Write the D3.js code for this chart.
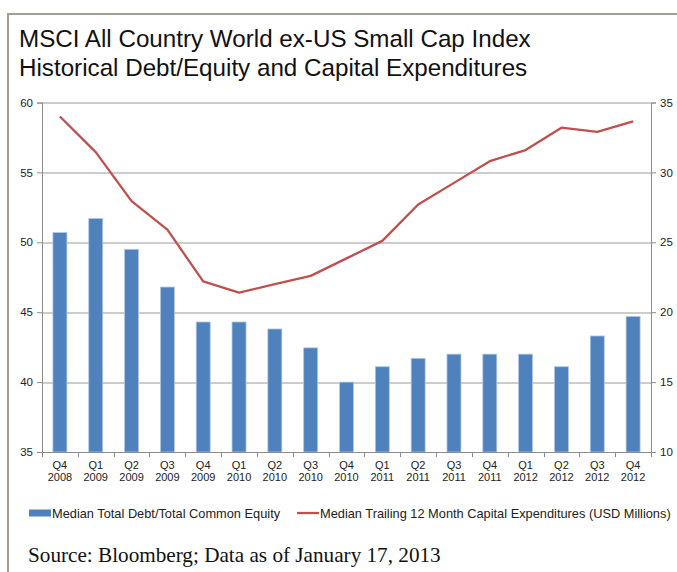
<!DOCTYPE html>
<html>
<head>
<meta charset="utf-8">
<script src="https://cdn.jsdelivr.net/npm/d3@7"></script>
<style>
	body { margin: 0; background: #fff; }
	svg { display: block; font-family: "Liberation Sans", Arial, sans-serif; }
</style>
</head>
<body>
<svg id="chart"></svg>
<script>
// quarters shown on the x axis
const quarters = ['Q4', 'Q1', 'Q2', 'Q3', 'Q4', 'Q1', 'Q2', 'Q3', 'Q4', 'Q1', 'Q2', 'Q3', 'Q4', 'Q1', 'Q2', 'Q3', 'Q4'];
const years = ['2008', '2009', '2009', '2009', '2009', '2010', '2010', '2010', '2010', '2011', '2011', '2011', '2011', '2012', '2012', '2012', '2012'];

// Median Total Debt/Total Common Equity (left axis)
const debtEquity = [50.7, 51.7, 49.5, 46.8, 44.3, 44.3, 43.8, 42.45, 40.0, 41.1, 41.7, 42.0, 42.0, 42.0, 41.1, 43.3, 44.7];

// Median Trailing 12 Month Capex, USD millions (right axis)
const capex = [34.0, 31.45, 27.95, 25.9, 22.2, 21.4, 22.0, 22.6, 23.85, 25.1, 27.7, 29.25, 30.8, 31.6, 33.2, 32.9, 33.65];

const leftTicks = [35, 40, 45, 50, 55, 60];
const rightTicks = [10, 15, 20, 25, 30, 35];

const W = 677, H = 572;
const margin = { top: 102.5, right: 26, bottom: 120, left: 42 };
const plotW = W - margin.left - margin.right;
const plotH = H - margin.top - margin.bottom;

const svg = d3.select('#chart').attr('width', W).attr('height', H);

// outer frame (top and left edges only are visible)
svg.append('path')
	.attr('d', `M8,${H} L8,14 L${W},14`)
	.attr('fill', 'none')
	.attr('stroke', '#a39e92')
	.attr('stroke-width', 2);

// title
const title = svg.append('text')
	.attr('x', 19)
	.attr('font-size', 24.2)
	.attr('fill', '#111');
title.append('tspan').attr('x', 19).attr('y', 47).text('MSCI All Country World ex-US Small Cap Index');
title.append('tspan').attr('x', 19).attr('y', 76).text('Historical Debt/Equity and Capital Expenditures');

const chart = svg.append('g')
	.attr('transform', `translate(${margin.left},${margin.top})`);

const idx = d3.range(quarters.length);
const x = d3.scaleBand().domain(idx).range([0, plotW]).padding(0);
const yL = d3.scaleLinear().domain([35, 60]).range([plotH, 0]);
const yR = d3.scaleLinear().domain([10, 35]).range([plotH, 0]);

// gridlines
chart.selectAll('.grid')
	.data(leftTicks.slice(1))
	.join('line')
	.attr('class', 'grid')
	.attr('x1', 0)
	.attr('x2', plotW)
	.attr('y1', (d) => Math.round(yL(d)) + 0.5)
	.attr('y2', (d) => Math.round(yL(d)) + 0.5)
	.attr('stroke', '#9a9a9a')
	.attr('stroke-width', 1);

// bars
const barW = 14;
chart.selectAll('.bar')
	.data(debtEquity)
	.join('rect')
	.attr('class', 'bar')
	.attr('x', (d, i) => x(i) + x.bandwidth() / 2 - barW / 2)
	.attr('y', (d) => yL(d))
	.attr('width', barW)
	.attr('height', (d) => plotH - yL(d))
	.attr('fill', '#4f81bd')
	.attr('stroke', '#b4c8e4')
	.attr('stroke-width', 0.8);

// line
const line = d3.line()
	.x((d, i) => x(i) + x.bandwidth() / 2)
	.y((d) => yR(d));

chart.append('path')
	.datum(capex)
	.attr('d', line)
	.attr('fill', 'none')
	.attr('stroke', '#c0504d')
	.attr('stroke-width', 2.3)
	.attr('stroke-linejoin', 'round');

// axes
const axisColor = '#8c8c8c';
const leftAxis = chart.append('g')
	.call(d3.axisLeft(yL).tickValues(leftTicks).tickSize(5).tickPadding(4));
const rightAxis = chart.append('g')
	.attr('transform', `translate(${plotW},0)`)
	.call(d3.axisRight(yR).tickValues(rightTicks).tickSize(5).tickPadding(4));

[leftAxis, rightAxis].forEach((g) => {
	g.selectAll('.domain, line').attr('stroke', axisColor);
	g.selectAll('text').attr('font-size', 11.5).attr('fill', '#222')
		.attr('font-family', '"Liberation Sans", Arial, sans-serif');
});

// bottom axis: line, ticks between categories, two-line labels
const bottom = chart.append('g').attr('transform', `translate(0,${plotH})`);
bottom.append('line')
	.attr('x1', 0).attr('x2', plotW)
	.attr('y1', 0.5).attr('y2', 0.5)
	.attr('stroke', axisColor);
bottom.selectAll('.xtick')
	.data(d3.range(quarters.length + 1))
	.join('line')
	.attr('class', 'xtick')
	.attr('x1', (d) => Math.round(d * x.bandwidth()) + 0.5)
	.attr('x2', (d) => Math.round(d * x.bandwidth()) + 0.5)
	.attr('y1', 0)
	.attr('y2', 5)
	.attr('stroke', axisColor);

const xl = bottom.selectAll('.xlabel')
	.data(idx)
	.join('text')
	.attr('class', 'xlabel')
	.attr('text-anchor', 'middle')
	.attr('font-size', 11)
	.attr('fill', '#222');
xl.append('tspan')
	.attr('x', (d) => x(d) + x.bandwidth() / 2)
	.attr('y', 16.5)
	.text((d) => quarters[d]);
xl.append('tspan')
	.attr('x', (d) => x(d) + x.bandwidth() / 2)
	.attr('y', 28.5)
	.text((d) => years[d]);

// legend
const legend = svg.append('g').attr('transform', 'translate(0,513)');
legend.append('rect')
	.attr('x', 29).attr('y', -3.5)
	.attr('width', 22).attr('height', 7)
	.attr('fill', '#4f81bd');
legend.append('text')
	.attr('x', 52).attr('y', 4.5)
	.attr('font-size', 12.8).attr('fill', '#222')
	.text('Median Total Debt/Total Common Equity');
legend.append('line')
	.attr('x1', 297).attr('x2', 319)
	.attr('y1', 0).attr('y2', 0)
	.attr('stroke', '#c0504d').attr('stroke-width', 2.3);
legend.append('text')
	.attr('x', 320).attr('y', 4.5)
	.attr('font-size', 12.8).attr('fill', '#222')
	.text('Median Trailing 12 Month Capital Expenditures (USD Millions)');

// source note
svg.append('text')
	.attr('x', 28).attr('y', 561.5)
	.attr('font-family', '"Liberation Serif", "Times New Roman", serif')
	.attr('font-size', 21.2)
	.attr('fill', '#111')
	.text('Source: Bloomberg; Data as of January 17, 2013');
</script>
</body>
</html>
